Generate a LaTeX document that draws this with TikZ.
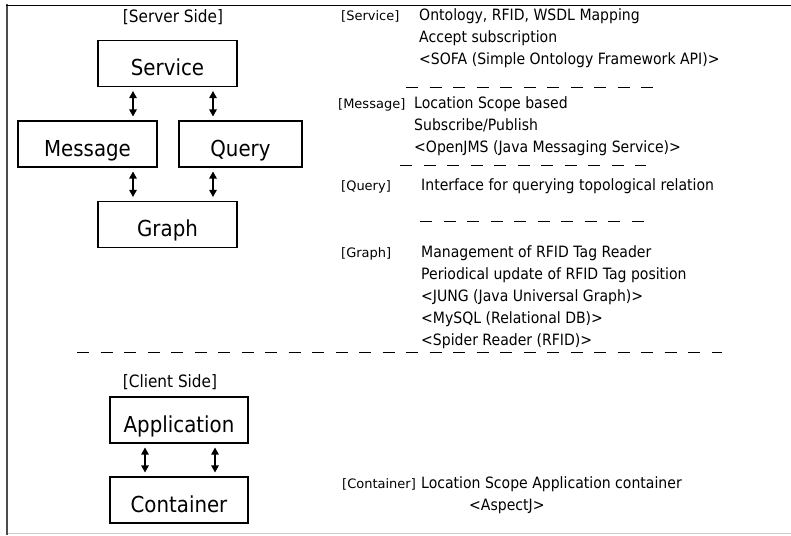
\documentclass[tikz,border=0pt]{standalone}
\usepackage{fontspec}
\setmainfont{DejaVu Sans}[FakeStretch=0.9]
\newfontfamily\tagfont{DejaVu Sans}
\usetikzlibrary{arrows.meta}
\begin{document}
\begin{tikzpicture}[x=1pt,y=-1pt,
  box/.style={draw, line width=1.1pt, minimum width=139pt, minimum height=46pt,
    inner sep=0pt, font=\fontsize{22}{26}\selectfont, text height=24pt, text depth=0pt},
  biarrow/.style={line width=1.2pt, {Triangle[length=7pt,width=7.5pt]}-{Triangle[length=7pt,width=7.5pt]},
    shorten <=4pt, shorten >=4pt},
  tag/.style={anchor=base west, inner sep=0pt, font=\tagfont\fontsize{13}{15}\selectfont},
  txt/.style={anchor=base west, inner sep=0pt, font=\fontsize{15.6}{18}\selectfont},
  side/.style={inner sep=0pt, font=\fontsize{17}{20}\selectfont},
  sep/.style={line width=1pt, dash pattern=on 12pt off 11.5pt}]
\useasboundingbox (0,0) rectangle (791,535);

% frame
\draw[line width=2pt, black!70] (7,4.5) -- (7,535);
\draw[line width=1.5pt, black] (6,5.5) -- (791,5.5);
\draw[line width=1.5pt, black!20] (8,533.5) -- (791,533.5);

% server side components
\node[side] (server) at (173,17) {[Server Side]};
\node[box] (svc) at (167.5,63.5) {Service};
\node[box] (msg) at (87.5,144) {Message};
\node[box, minimum width=123pt] (qry) at (240.5,144) {Query};
\node[box] (graph) at (167.5,224.5) {Graph};

\coordinate (xl) at (133,0);
\coordinate (xr) at (213,0);
\draw[biarrow] (svc.south -| xl) -- (msg.north -| xl);
\draw[biarrow] (svc.south -| xr) -- (qry.north -| xr);
\draw[biarrow] (msg.south -| xl) -- (graph.north -| xl);
\draw[biarrow] (qry.south -| xr) -- (graph.north -| xr);

% descriptions
\node[tag] (tsvc) at (341,21) {[Service]};
\node[txt] (svc1) at (419,21) {Ontology, RFID, WSDL Mapping};
\node[txt] (svc2) at (419,42.5) {Accept subscription};
\node[txt] (svc3) at (419,64) {<SOFA (Simple Ontology Framework API)>};
\draw[sep] (406,87.5) -- (656,87.5);

\node[tag] (tmsg) at (338,108) {[Message]};
\node[txt] (msg1) at (414,108) {Location Scope based};
\node[txt] (msg2) at (414,130) {Subscribe/Publish};
\node[txt] (msg3) at (414,152) {<OpenJMS (Java Messaging Service)>};
\draw[sep] (400,165.5) -- (646,165.5);

\node[tag] (tqry) at (341,190) {[Query]};
\node[txt] (qry1) at (421,190) {Interface for querying topological relation};
\draw[sep] (420,221.5) -- (646,221.5);

\node[tag] (tgraph) at (341,257) {[Graph]};
\node[txt] (gr1) at (421,257) {Management of RFID Tag Reader};
\node[txt] (gr2) at (421,279) {Periodical update of RFID Tag position};
\node[txt] (gr3) at (421,301) {<JUNG (Java Universal Graph)>};
\node[txt] (gr4) at (421,323) {<MySQL (Relational DB)>};
\node[txt] (gr5) at (421,345) {<Spider Reader (RFID)>};

% server / client separator
\draw[sep] (77,352) -- (722,352);

% client side components
\node[side] (client) at (170,382) {[Client Side]};
\node[box, minimum width=138pt] (app) at (179,420) {Application};
\node[box, minimum width=138pt] (cont) at (179,500) {Container};
\coordinate (xa) at (145,0);
\coordinate (xb) at (215,0);
\draw[biarrow] (app.south -| xa) -- (cont.north -| xa);
\draw[biarrow] (app.south -| xb) -- (cont.north -| xb);

\node[tag] (tcont) at (342,488) {[Container]};
\node[txt] (cont1) at (421,488) {Location Scope Application container};
\node[txt] (cont2) at (469,510) {<AspectJ>};
\end{tikzpicture}
\end{document}
